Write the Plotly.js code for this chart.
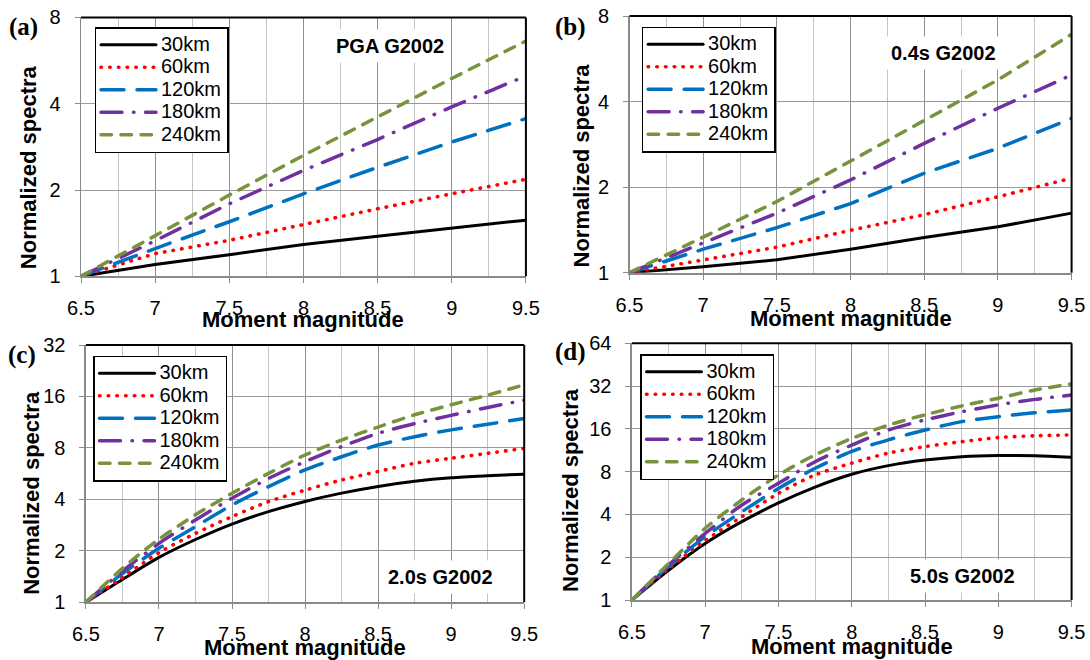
<!DOCTYPE html>
<html>
<head>
<meta charset="utf-8">
<script src="https://cdn.plot.ly/plotly-3.0.1.min.js"></script>
<style>
html,body{margin:0;padding:0;background:#fff;}
#chart{width:1090px;height:660px;}
#chart path.js-line{stroke-linecap:round;}
</style>
</head>
<body>
<div id="chart"></div>
<script>
// ---------- data ----------
const seriesNames = ['30km', '60km', '120km', '180km', '240km'];
const magAB = [6.5, 7, 7.5, 8, 8.5, 9, 9.5];
const magCD = [6.5, 6.75, 7, 7.25, 7.5, 7.75, 8, 8.25, 8.5, 8.75, 9, 9.25, 9.5];

// (a) PGA G2002
const pga30  = [1, 1.10, 1.19, 1.29, 1.38, 1.47, 1.57];
const pga60  = [1, 1.20, 1.335, 1.52, 1.72, 1.94, 2.18];
const pga120 = [1, 1.25, 1.55, 1.94, 2.40, 2.94, 3.55];
const pga180 = [1, 1.33, 1.79, 2.34, 3.00, 3.90, 5.00];
const pga240 = [1, 1.39, 1.92, 2.64, 3.60, 4.90, 6.62];

// (b) 0.4s G2002
const s04_30  = [1, 1.05, 1.11, 1.21, 1.33, 1.45, 1.62];
const s04_60  = [1, 1.11, 1.23, 1.41, 1.60, 1.85, 2.15];
const s04_120 = [1, 1.21, 1.44, 1.75, 2.24, 2.74, 3.49];
const s04_180 = [1, 1.27, 1.62, 2.12, 2.85, 3.79, 4.96];
const s04_240 = [1, 1.33, 1.78, 2.47, 3.44, 4.77, 6.90];

// (c) 2.0s G2002
const s20_30  = [1, 1.36, 1.83, 2.33, 2.87, 3.39, 3.89, 4.35, 4.76, 5.10, 5.35, 5.50, 5.62];
const s20_60  = [1, 1.40, 1.95, 2.53, 3.17, 3.88, 4.53, 5.19, 5.82, 6.50, 6.96, 7.44, 7.95];
const s20_120 = [1, 1.47, 2.07, 2.77, 3.71, 4.75, 5.95, 7.10, 8.32, 9.30, 10.2, 11.0, 11.9];
const s20_180 = [1, 1.52, 2.21, 3.03, 4.06, 5.30, 6.65, 8.14, 9.74, 11.1, 12.4, 13.8, 15.2];
const s20_240 = [1, 1.58, 2.34, 3.25, 4.34, 5.68, 7.27, 8.90, 10.6, 12.5, 14.3, 16.3, 18.7];

// (d) 5.0s G2002
const s50_30  = [1, 1.62, 2.50, 3.56, 4.82, 6.23, 7.67, 8.82, 9.65, 10.2, 10.4, 10.35, 10.1];
const s50_60  = [1, 1.66, 2.62, 3.86, 5.63, 7.58, 9.19, 10.8, 12.0, 13.0, 13.9, 14.3, 14.5];
const s50_120 = [1, 1.72, 2.79, 4.18, 6.10, 8.45, 11.1, 13.4, 15.7, 18.0, 19.5, 20.8, 21.7];
const s50_180 = [1, 1.76, 2.94, 4.66, 6.62, 9.40, 12.3, 15.7, 18.5, 21.1, 23.6, 25.8, 27.7];
const s50_240 = [1, 1.80, 3.20, 5.06, 7.58, 10.5, 13.7, 17.0, 20.1, 23.2, 26.3, 30.0, 33.1];

const panelLetters = ['(a)', '(b)', '(c)', '(d)'];
const panelTitles = ['PGA G2002', '0.4s G2002', '2.0s G2002', '5.0s G2002'];
const xTickVals = [6.5, 7, 7.5, 8, 8.5, 9, 9.5];
const yTicksAB = [1, 2, 4, 8];
const yTicksC = [1, 2, 4, 8, 16, 32];
const yTicksD = [1, 2, 4, 8, 16, 32, 64];
const xTitle = 'Moment magnitude';
const yTitle = 'Normalized spectra';

// ---------- styles ----------
const W = 1090, H = 660;
const px = v => v / W;
const py = v => 1 - v / H;
const FONT = 'Arial, "Liberation Sans", sans-serif';
const SERIF = '"Times New Roman", "Liberation Serif", serif';
const lineStyles = [
  {color: '#000000', width: 3, dash: 'solid'},
  {color: '#FF0000', width: 3.6, dash: '0.5px,8.2px'},
  {color: '#0070C0', width: 3.5, dash: '23px,13px'},
  {color: '#7030A0', width: 3.5, dash: '21px,11.5px,0.5px,11.5px'},
  {color: '#77933C', width: 3.5, dash: '10.5px,9.5px'}
];

const panels = [
  {mags: magAB, ys: [pga30, pga60, pga120, pga180, pga240], ticks: yTicksAB, shape: 'linear',
   box: [81, 525.9, 17.4, 276.3], leg: [94.5, 27], letter: [23, 27.5], note: [390.3, 46],
   ytl: [28.7, 167.5], xtl: [303.3, 319]},
  {mags: magAB, ys: [s04_30, s04_60, s04_120, s04_180, s04_240], ticks: yTicksAB, shape: 'linear',
   box: [629.5, 1071.6, 16, 272.7], leg: [641.6, 26.5], letter: [571, 27], note: [943, 53],
   ytl: [581.5, 166], xtl: [850.8, 318]},
  {mags: magCD, ys: [s20_30, s20_60, s20_120, s20_180, s20_240], ticks: yTicksC, shape: 'spline',
   box: [85.9, 524.2, 345, 602.3], leg: [93, 355.5], letter: [22, 355], note: [440, 577],
   ytl: [31.3, 492.5], xtl: [305, 647]},
  {mags: magCD, ys: [s50_30, s50_60, s50_120, s50_180, s50_240], ticks: yTicksD, shape: 'spline',
   box: [631.9, 1071.6, 343.3, 600], leg: [640, 354], letter: [570, 352], note: [962, 576],
   ytl: [570, 490], xtl: [851.6, 646]}
];

const traces = [];
const layout = {
  width: W, height: H,
  margin: {l: 0, r: 0, t: 0, b: 0},
  paper_bgcolor: '#ffffff', plot_bgcolor: '#ffffff',
  font: {family: FONT, size: 20, color: '#000'},
  showlegend: true,
  annotations: [], shapes: []
};

panels.forEach((p, i) => {
  const n = i === 0 ? '' : String(i + 1);
  const xa = 'xaxis' + n, ya = 'yaxis' + n;
  const legName = 'legend' + n;
  p.ys.forEach((vals, k) => {
    traces.push({
      type: 'scatter', mode: 'lines',
      x: p.mags, y: vals,
      xaxis: 'x' + n, yaxis: 'y' + n,
      name: '<span style="font-size:20px">' + seriesNames[k] + '</span>',
      legend: legName,
      line: Object.assign({shape: p.shape, smoothing: 0.8}, lineStyles[k]),
      hoverinfo: 'skip'
    });
  });
  layout[xa] = {
    domain: [px(p.box[0]), px(p.box[1])],
    anchor: 'y' + n,
    range: [6.5, 9.5], tickvals: xTickVals, ticktext: xTickVals.map(String),
    showline: true, linecolor: '#8a8a8a', linewidth: 2,
    ticks: 'outside', ticklen: 5, tickcolor: '#8a8a8a', tickwidth: 1,
    ticklabelstandoff: 8,
    showgrid: true, gridcolor: '#8f8f8f', gridwidth: 1,
    minor: {dtick: 0.25, tick0: 6.5, showgrid: true, gridcolor: '#c4c4c4', gridwidth: 1, ticks: ''},
    zeroline: false,
    tickfont: {family: FONT, size: 20, color: '#000'},
    fixedrange: true
  };
  const top = p.ticks[p.ticks.length - 1];
  layout[ya] = {
    domain: [py(p.box[3]), py(p.box[2])],
    anchor: 'x' + n,
    type: 'log', range: [0, Math.log10(top)],
    tickvals: p.ticks, ticktext: p.ticks.map(String),
    showline: true, linecolor: '#8a8a8a', linewidth: 1.5,
    ticks: 'outside', ticklen: 5, tickcolor: '#8a8a8a', tickwidth: 1,
    ticklabelstandoff: 10,
    showgrid: true, gridcolor: '#9a9a9a', gridwidth: 1,
    zeroline: false,
    tickfont: {family: FONT, size: 20, color: '#000'},
    fixedrange: true
  };
  layout[legName] = {
    x: px(p.leg[0]), y: py(p.leg[1]), xanchor: 'left', yanchor: 'top',
    xref: 'paper', yref: 'paper',
    bgcolor: '#ffffff', bordercolor: '#000000', borderwidth: 1.5,
    font: {family: FONT, size: 15, color: '#000'},
    itemwidth: 55, tracegroupgap: 0
  };
  // black top and right frame
  layout.shapes.push(
    {type: 'line', xref: 'x' + n + ' domain', yref: 'y' + n + ' domain', x0: 0, x1: 1, y0: 1, y1: 1,
     line: {color: '#000', width: 2}, layer: 'above'},
    {type: 'line', xref: 'x' + n + ' domain', yref: 'y' + n + ' domain', x0: 1, x1: 1, y0: 0, y1: 1,
     line: {color: '#000', width: 2}, layer: 'above'}
  );
  layout.annotations.push(
    {text: '<b>' + panelLetters[i] + '</b>', xref: 'paper', yref: 'paper', x: px(p.letter[0]), y: py(p.letter[1]),
     xanchor: 'center', yanchor: 'middle', showarrow: false, font: {family: SERIF, size: 25, color: '#000'}},
    {text: '<b>' + panelTitles[i] + '</b>', xref: 'paper', yref: 'paper', x: px(p.note[0]), y: py(p.note[1]),
     xanchor: 'center', yanchor: 'middle', showarrow: false, bgcolor: '#ffffff', borderpad: 5,
     font: {family: FONT, size: 20, color: '#000'}},
    {text: '<b>' + yTitle + '</b>', xref: 'paper', yref: 'paper', x: px(p.ytl[0]), y: py(p.ytl[1]),
     xanchor: 'center', yanchor: 'middle', textangle: -90, showarrow: false,
     font: {family: FONT, size: 22, color: '#000'}},
    {text: '<b>' + xTitle + '</b>', xref: 'paper', yref: 'paper', x: px(p.xtl[0]), y: py(p.xtl[1]),
     xanchor: 'center', yanchor: 'middle', showarrow: false,
     font: {family: FONT, size: 22, color: '#000'}}
  );
});

Plotly.newPlot('chart', traces, layout, {displayModeBar: false, staticPlot: true});
</script>
</body>
</html>
